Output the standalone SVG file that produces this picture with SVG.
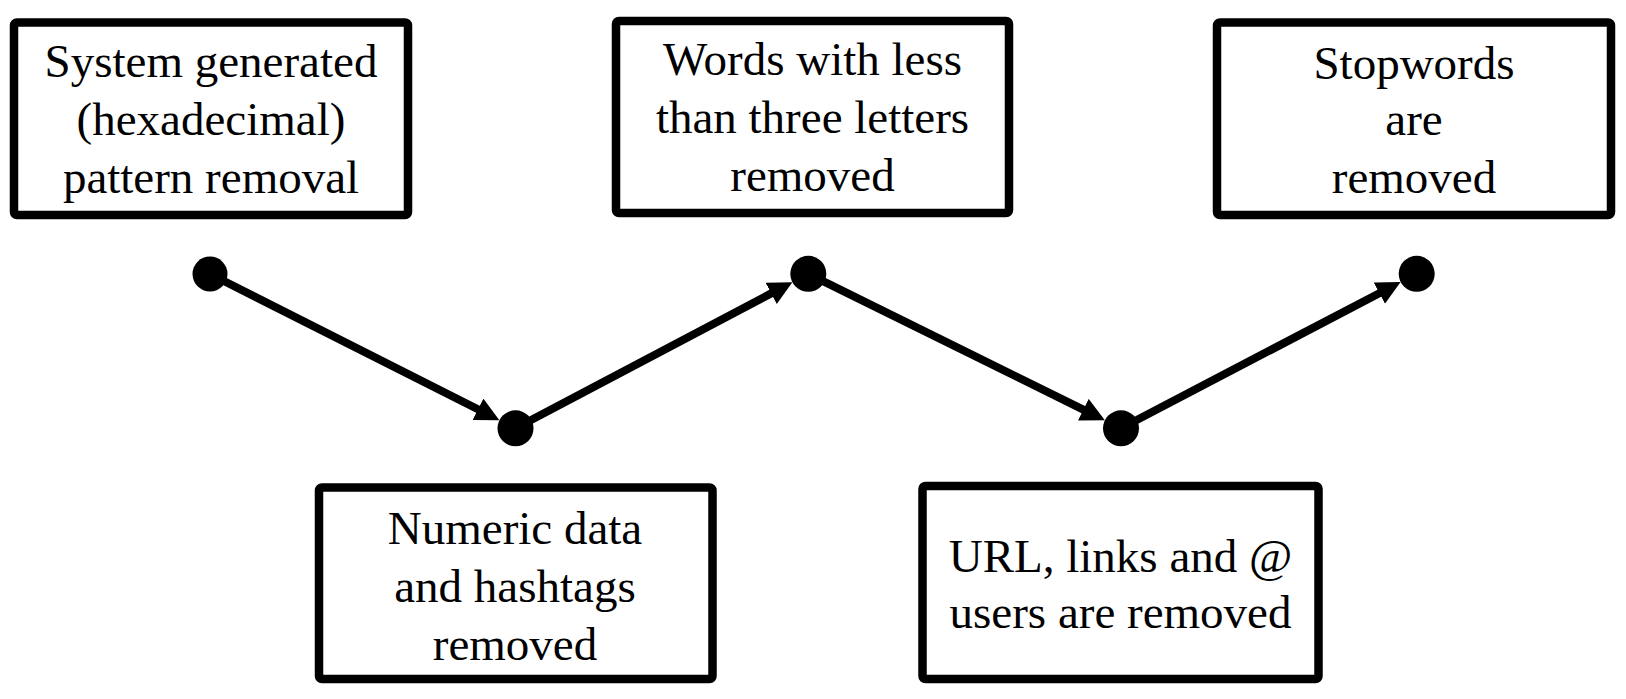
<svg xmlns="http://www.w3.org/2000/svg" width="1626" height="699" viewBox="0 0 1626 699">
<style>
.box{fill:#fff;stroke:#000;stroke-width:8.5;}
.lbl{font-family:"Liberation Serif","Times New Roman",serif;font-size:47px;fill:#000;text-anchor:middle;}
.conn{stroke:#000;stroke-width:8;fill:none;}
.dot{fill:#000;}
</style>
<defs>
<marker id="arr" markerUnits="userSpaceOnUse" markerWidth="24" markerHeight="24" viewBox="0 0 23 23" refX="1" refY="11.5" orient="auto">
<path d="M0,0 L23,11.5 L0,23 Z" fill="#000"/>
</marker>
</defs>
<rect width="1626" height="699" fill="#fff"/>
<g id="node1">
<rect class="box" x="14" y="22.5" width="394" height="192.5" rx="3"/>
<text class="lbl" x="211" y="77">System generated</text>
<text class="lbl" x="211" y="135">(hexadecimal)</text>
<text class="lbl" x="211" y="193">pattern removal</text>
</g>
<g id="node2">
<rect class="box" x="616" y="21" width="393" height="192" rx="3"/>
<text class="lbl" x="812.5" y="75">Words with less</text>
<text class="lbl" x="812.5" y="133">than three letters</text>
<text class="lbl" x="812.5" y="191">removed</text>
</g>
<g id="node3">
<rect class="box" x="1217" y="22.5" width="394" height="192.5" rx="3"/>
<text class="lbl" x="1414" y="79">Stopwords</text>
<text class="lbl" x="1414" y="135">are</text>
<text class="lbl" x="1414" y="193">removed</text>
</g>
<g id="node4">
<rect class="box" x="319" y="487.5" width="393.5" height="191.5" rx="3"/>
<text class="lbl" x="515" y="544">Numeric data</text>
<text class="lbl" x="515" y="602">and hashtags</text>
<text class="lbl" x="515" y="660">removed</text>
</g>
<g id="node5">
<rect class="box" x="922.5" y="486" width="396" height="193" rx="3"/>
<text class="lbl" x="1120.5" y="572">URL, links and @</text>
<text class="lbl" x="1120.5" y="628">users are removed</text>
</g>
<g id="connectors">
<line class="conn" x1="210" y1="274" x2="478.9" y2="409.8" marker-end="url(#arr)"/>
<line class="conn" x1="515.5" y1="428.3" x2="772.1" y2="292.9" marker-end="url(#arr)"/>
<line class="conn" x1="808.3" y1="273.8" x2="1084.3" y2="410.1" marker-end="url(#arr)"/>
<line class="conn" x1="1121" y1="428.3" x2="1380.3" y2="292.7" marker-end="url(#arr)"/>
</g>
<g id="dots">
<circle class="dot" cx="210" cy="274" r="17.5"/>
<circle class="dot" cx="515.5" cy="428.3" r="18"/>
<circle class="dot" cx="808.3" cy="273.8" r="18"/>
<circle class="dot" cx="1121" cy="428.3" r="18"/>
<circle class="dot" cx="1416.7" cy="273.8" r="18"/>
</g>
</svg>
